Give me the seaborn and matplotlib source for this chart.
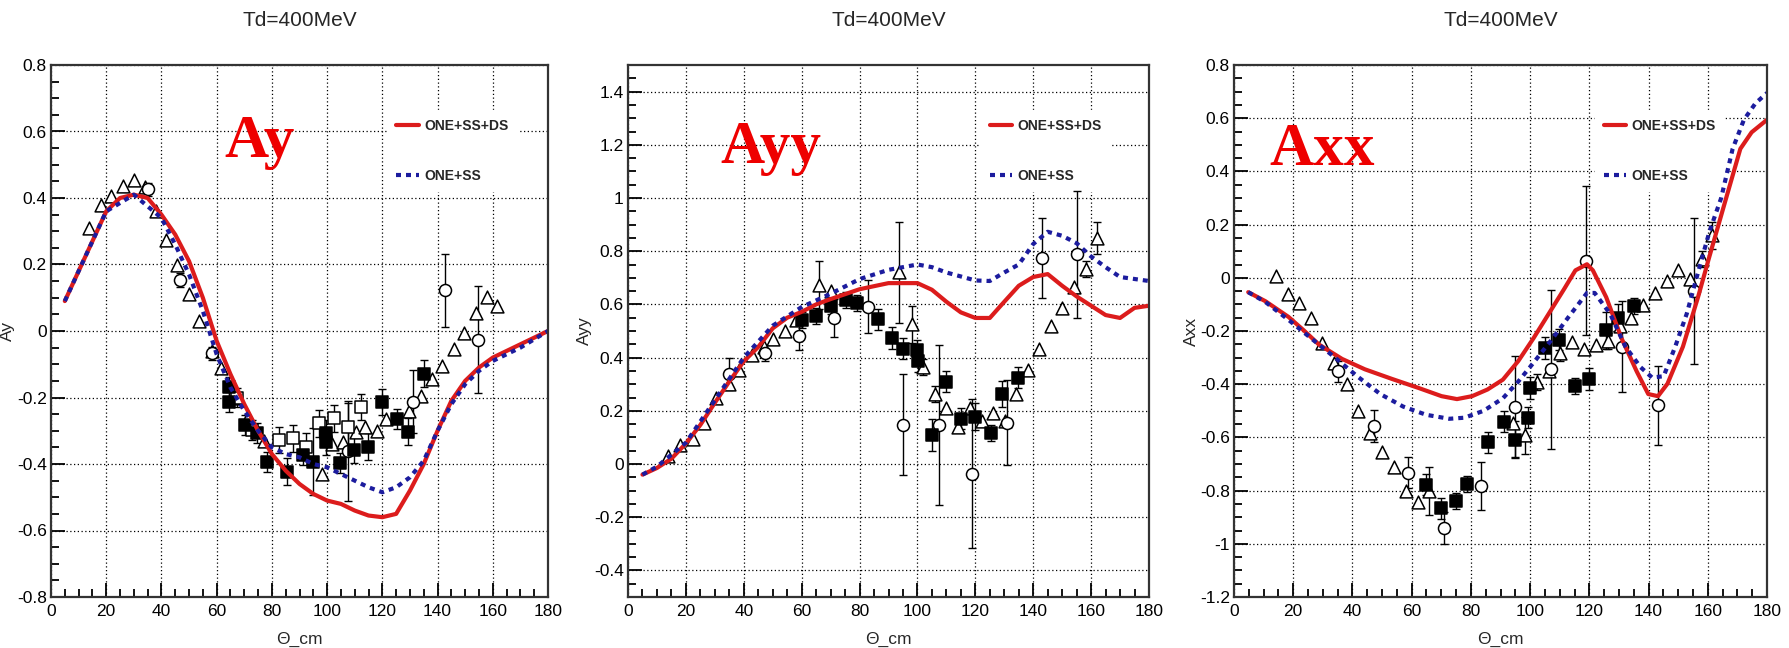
import numpy as np
import pandas as pd
import matplotlib
matplotlib.use("Agg")
import matplotlib.pyplot as plt
import seaborn as sns
from matplotlib.ticker import MultipleLocator, AutoMinorLocator, FuncFormatter
from matplotlib import font_manager

# ---------------- data ----------------
# Panel 1 : Ay
ay_red_x = [5, 10, 20, 25, 30, 35, 40, 45, 50, 55, 60, 65, 70, 75, 80, 85, 90, 95, 100, 105, 110, 115, 120, 125,
            130, 135, 140, 145, 150, 155, 160, 165, 170, 175, 180]
ay_red_y = [0.09, 0.18, 0.36, 0.40, 0.41, 0.40, 0.35, 0.29, 0.21, 0.10, -0.03, -0.13, -0.22, -0.30, -0.37, -0.42,
            -0.46, -0.49, -0.51, -0.52, -0.54, -0.555, -0.56, -0.55, -0.48, -0.40, -0.30, -0.21, -0.15, -0.11,
            -0.08, -0.06, -0.04, -0.02, 0.0]
ay_blue_x = [5, 10, 20, 30, 40, 45, 50, 55, 60, 65, 70, 75, 80, 85, 90, 95, 100, 105, 110, 115, 120, 125, 130, 135,
             140, 145, 150, 155, 160, 170, 180]
ay_blue_y = [0.09, 0.18, 0.36, 0.41, 0.34, 0.26, 0.17, 0.06, -0.07, -0.17, -0.24, -0.30, -0.35, -0.37, -0.38,
             -0.40, -0.41, -0.43, -0.45, -0.47, -0.485, -0.47, -0.44, -0.39, -0.30, -0.22, -0.16, -0.12, -0.09,
             -0.05, 0.0]
ay_tri_x = [13.9, 18.0, 21.8, 25.9, 30.1, 34.2, 38.0, 41.6, 45.6, 49.9, 53.6, 58.2, 61.7, 66.0, 71.5, 77.0, 98.0,
            101.8, 105.6, 110.4, 113.9, 118.0, 121.5, 129.8, 134.0, 137.9, 141.6, 146.0, 149.6, 153.8, 158.0, 161.7]
ay_tri_y = [0.31, 0.38, 0.405, 0.436, 0.455, 0.434, 0.36, 0.275, 0.20, 0.11, 0.03, -0.06, -0.11, -0.20, -0.26,
            -0.33, -0.43, -0.34, -0.334, -0.303, -0.29, -0.30, -0.266, -0.24, -0.195, -0.145, -0.105, -0.055,
            -0.005, 0.055, 0.103, 0.076]
ay_tri_e = [0] * 32
ay_cir_x = [35.3, 46.7, 58.2, 107.5, 131.0, 142.7, 154.8]
ay_cir_y = [0.426, 0.153, -0.067, -0.36, -0.213, 0.123, -0.026]
ay_cir_e = [0.02, 0.02, 0.02, 0.15, 0.095, 0.11, 0.16]
ay_fsq_x = [64.6, 64.6, 70.3, 74.7, 78.3, 85.6, 91.2, 94.9, 99.6, 99.6, 104.7, 109.7, 114.9, 119.8, 125.4, 129.2,
            135.1]
ay_fsq_y = [-0.167, -0.213, -0.283, -0.307, -0.393, -0.423, -0.373, -0.393, -0.307, -0.333, -0.398, -0.358,
            -0.348, -0.213, -0.265, -0.303, -0.128]
ay_fsq_e = [0.03, 0.03, 0.03, 0.03, 0.03, 0.04, 0.03, 0.10, 0.04, 0.04, 0.03, 0.04, 0.04, 0.04, 0.03, 0.04, 0.04]
ay_osq_x = [67.5, 72.7, 82.7, 87.5, 92.2, 97.2, 102.5, 107.5, 112.2]
ay_osq_y = [-0.20, -0.298, -0.328, -0.323, -0.348, -0.278, -0.263, -0.288, -0.228]
ay_osq_e = [0.03, 0.03, 0.04, 0.04, 0.04, 0.04, 0.04, 0.07, 0.04]

# Panel 2 : Ayy
ayy_red_x = [5, 10, 15, 20, 25, 30, 35, 40, 45, 50, 55, 60, 65, 70, 80, 90, 100, 105, 110, 115, 120, 125, 130, 135,
             140, 145, 150, 155, 160, 165, 170, 175, 180]
ayy_red_y = [-0.04, -0.015, 0.02, 0.077, 0.147, 0.23, 0.31, 0.386, 0.44, 0.51, 0.55, 0.572, 0.60, 0.62, 0.657,
             0.68, 0.68, 0.655, 0.61, 0.57, 0.549, 0.549, 0.61, 0.67, 0.703, 0.714, 0.67, 0.63, 0.595, 0.56,
             0.549, 0.587, 0.595]
ayy_blue_x = [5, 10, 20, 30, 40, 50, 60, 70, 80, 90, 100, 105, 110, 115, 120, 125, 130, 135, 140, 145, 150, 155,
              160, 165, 170, 180]
ayy_blue_y = [-0.04, -0.01, 0.08, 0.24, 0.40, 0.52, 0.59, 0.64, 0.695, 0.73, 0.75, 0.74, 0.72, 0.705, 0.69, 0.688,
              0.72, 0.75, 0.827, 0.873, 0.858, 0.83, 0.78, 0.74, 0.703, 0.688]
ayy_tri_x = [13.9, 18.1, 22.5, 26.4, 30.4, 34.8, 38.3, 42.9, 47.0, 50.2, 54.2, 58.1, 66.1, 70.0, 93.8, 98.2, 101.8,
             106.0, 110.0, 113.9, 118.3, 122.2, 126.2, 130.2, 134.1, 138.1, 142.1, 146.0, 150.0, 154.0, 158.3,
             161.9]
ayy_tri_y = [0.031, 0.07, 0.093, 0.155, 0.247, 0.30, 0.355, 0.41, 0.44, 0.47, 0.50, 0.54, 0.672, 0.65, 0.72, 0.525,
             0.363, 0.263, 0.209, 0.139, 0.209, 0.162, 0.193, 0.162, 0.263, 0.355, 0.433, 0.518, 0.587, 0.665,
             0.734, 0.85]
ayy_tri_e = [0, 0, 0, 0, 0, 0, 0, 0, 0, 0, 0, 0, 0.09, 0, 0.19, 0.07, 0.03, 0.03, 0, 0, 0, 0, 0, 0, 0, 0, 0, 0, 0,
             0, 0.03, 0.06]
ayy_cir_x = [35.0, 47.3, 59.1, 71.0, 83.0, 95.1, 107.3, 118.9, 130.8, 143.0, 155.0]
ayy_cir_y = [0.34, 0.417, 0.48, 0.549, 0.592, 0.147, 0.147, -0.036, 0.155, 0.773, 0.788]
ayy_cir_e = [0.06, 0.03, 0.05, 0.07, 0.10, 0.19, 0.30, 0.28, 0.16, 0.15, 0.24]
ayy_fsq_x = [60.1, 64.8, 70.0, 75.3, 79.0, 86.2, 91.2, 94.9, 99.8, 100.2, 105.1, 109.7, 115.0, 120.0, 125.5,
             129.2, 134.8]
ayy_fsq_y = [0.54, 0.556, 0.595, 0.618, 0.606, 0.544, 0.474, 0.433, 0.428, 0.386, 0.108, 0.309, 0.17, 0.178,
             0.116, 0.263, 0.325]
ayy_fsq_e = [0.03, 0.03, 0.03, 0.03, 0.03, 0.04, 0.04, 0.04, 0.04, 0.04, 0.06, 0.04, 0.04, 0.05, 0.03, 0.05, 0.04]

# Panel 3 : Axx
axx_red_x = [4.8, 10.6, 18.4, 23.5, 28.7, 36.5, 44.2, 53.3, 62.3, 70.1, 75.3, 80.4, 85.6, 90.8, 96.0, 101.1, 106.3,
             111.5, 115.3, 119.2, 121.2, 125.7, 130.9, 136.0, 139.9, 143.2, 146.4, 151.6, 156.7, 160.6, 165.8,
             171.0, 174.8, 180.0]
axx_red_y = [-0.054, -0.088, -0.147, -0.197, -0.251, -0.305, -0.344, -0.38, -0.414, -0.445, -0.456, -0.445, -0.42,
             -0.383, -0.313, -0.228, -0.135, -0.042, 0.028, 0.051, 0.028, -0.073, -0.228, -0.352, -0.437, -0.445,
             -0.398, -0.259, -0.073, 0.082, 0.284, 0.485, 0.547, 0.594]
axx_blue_x = [4.8, 10.6, 18.4, 26.1, 33.9, 41.6, 49.4, 57.1, 64.9, 72.7, 77.8, 84.3, 90.8, 96.0, 101.1, 107.6,
              112.8, 119.2, 121.8, 127.0, 132.2, 137.3, 141.2, 145.1, 149.0, 152.9, 156.7, 160.6, 164.5, 168.4,
              172.2, 176.1, 180.0]
axx_blue_y = [-0.054, -0.091, -0.158, -0.228, -0.298, -0.37, -0.437, -0.484, -0.515, -0.53, -0.526, -0.50, -0.453,
              -0.39, -0.32, -0.228, -0.15, -0.057, -0.057, -0.135, -0.259, -0.336, -0.375, -0.37, -0.259, -0.135,
              0.02, 0.175, 0.299, 0.485, 0.594, 0.656, 0.695]
axx_tri_x = [14.2, 18.1, 22.0, 25.9, 29.7, 33.9, 38.0, 42.0, 45.8, 50.0, 53.9, 58.2, 62.1, 66.0, 94.3, 98.3, 102.2,
             106.3, 110.2, 114.1, 118.2, 122.1, 126.3, 130.2, 134.1, 138.2, 142.1, 146.1, 150.0, 153.9, 158.0,
             161.3]
axx_tri_y = [0.008, -0.06, -0.096, -0.153, -0.246, -0.32, -0.40, -0.50, -0.584, -0.654, -0.712, -0.80, -0.843,
             -0.80, -0.545, -0.592, -0.39, -0.352, -0.282, -0.243, -0.267, -0.251, -0.236, -0.181, -0.15, -0.104,
             -0.057, -0.011, 0.028, -0.003, 0.07, 0.16]
axx_tri_e = [0, 0, 0, 0, 0, 0, 0, 0, 0, 0, 0, 0, 0, 0.09, 0, 0.07, 0.03, 0, 0.03, 0, 0, 0, 0.03, 0, 0, 0, 0, 0, 0,
             0, 0.03, 0.05]
axx_cir_x = [35.2, 47.2, 58.8, 71.0, 83.3, 95.0, 107.0, 119.0, 130.9, 143.2, 155.2]
axx_cir_y = [-0.352, -0.557, -0.732, -0.941, -0.783, -0.484, -0.344, 0.064, -0.259, -0.48, -0.05]
axx_cir_e = [0.04, 0.06, 0.06, 0.06, 0.09, 0.19, 0.30, 0.28, 0.17, 0.15, 0.275]
axx_fsq_x = [64.9, 69.8, 74.9, 78.8, 85.9, 91.2, 94.8, 99.4, 100.1, 105.0, 109.8, 115.1, 119.9, 125.7, 129.8,
             135.1]
axx_fsq_y = [-0.778, -0.867, -0.84, -0.774, -0.619, -0.541, -0.608, -0.526, -0.414, -0.264, -0.233, -0.406, -0.38,
             -0.197, -0.15, -0.107]
axx_fsq_e = [0.04, 0.04, 0.03, 0.03, 0.04, 0.04, 0.07, 0.04, 0.04, 0.04, 0.04, 0.03, 0.04, 0.07, 0.05, 0.03]

titles = ["Td=400MeV", "Td=400MeV", "Td=400MeV"]
ylabels = ["Ay", "Ayy", "Axx"]
big_labels = ["Ay", "Ayy", "Axx"]
legend_labels = ["ONE+SS+DS", "ONE+SS"]

# ---------------- style ----------------
sns.set_theme(style="ticks")
names = {f.name for f in font_manager.fontManager.ttflist}
NARROW = "Liberation Sans Narrow" if "Liberation Sans Narrow" in names else "Liberation Sans"
plt.rcParams['font.family'] = [NARROW, 'DejaVu Sans']
plt.rcParams['axes.facecolor'] = 'white'
plt.rcParams['figure.facecolor'] = 'white'

RED = '#dc1c1c'
BLUE = '#1c1c9e'

fig = plt.figure(figsize=(17.89, 6.48), dpi=100)
W, H = 1789.0, 648.0
rects = [(51, 548), (628, 1149), (1234, 1767)]
y_top, y_bot = 65, 597
axes = [fig.add_axes([l / W, 1 - y_bot / H, (r - l) / W, (y_bot - y_top) / H]) for l, r in rects]

panels = [
    dict(red=(ay_red_x, ay_red_y), blue=(ay_blue_x, ay_blue_y),
         tri=(ay_tri_x, ay_tri_y, ay_tri_e), cir=(ay_cir_x, ay_cir_y, ay_cir_e),
         fsq=(ay_fsq_x, ay_fsq_y, ay_fsq_e), osq=(ay_osq_x, ay_osq_y, ay_osq_e),
         ylim=(-0.8, 0.8), big_pos=(0.348, 0.827), ylab_x=-0.072),
    dict(red=(ayy_red_x, ayy_red_y), blue=(ayy_blue_x, ayy_blue_y),
         tri=(ayy_tri_x, ayy_tri_y, ayy_tri_e), cir=(ayy_cir_x, ayy_cir_y, ayy_cir_e),
         fsq=(ayy_fsq_x, ayy_fsq_y, ayy_fsq_e), osq=None,
         ylim=(-0.5, 1.5), big_pos=(0.177, 0.816), ylab_x=-0.069),
    dict(red=(axx_red_x, axx_red_y), blue=(axx_blue_x, axx_blue_y),
         tri=(axx_tri_x, axx_tri_y, axx_tri_e), cir=(axx_cir_x, axx_cir_y, axx_cir_e),
         fsq=(axx_fsq_x, axx_fsq_y, axx_fsq_e), osq=None,
         ylim=(-1.2, 0.8), big_pos=(0.066, 0.812), ylab_x=-0.066),
]

fmt = FuncFormatter(lambda v, p: ('%g' % round(v, 3)) if abs(v) > 1e-9 else '0')

for i, (ax, pnl) in enumerate(zip(axes, panels)):
    def pts(data, marker, face, ms):
        if data is None:
            return
        x, y, e = data
        df = pd.DataFrame({'theta': x, 'val': y, 'err': e})
        de = df[df['err'] > 0]
        if len(de):
            ax.errorbar(de['theta'], de['val'], yerr=de['err'], fmt='none', ecolor='black',
                        elinewidth=1.0, capsize=3, capthick=1.0, zorder=3)
        sns.scatterplot(data=df, x='theta', y='val', ax=ax, marker=marker, s=ms,
                        color=face, edgecolor='black', linewidth=1.1, zorder=4, legend=False)

    pts(pnl['tri'], '^', 'white', 85)
    pts(pnl['cir'], 'o', 'white', 75)
    pts(pnl['osq'], 's', 'white', 65)
    pts(pnl['fsq'], 's', 'black', 65)

    rx, ry = pnl['red']
    bx, by = pnl['blue']
    sns.lineplot(x=rx, y=ry, ax=ax, color=RED, linewidth=3.0, sort=False, estimator=None,
                 label=legend_labels[0], zorder=5)
    sns.lineplot(x=bx, y=by, ax=ax, color=BLUE, linewidth=3.0, sort=False, estimator=None,
                 linestyle=(0, (1.2, 1.2)), label=legend_labels[1], zorder=5)

    ax.set_xlim(0, 180)
    ax.set_ylim(*pnl['ylim'])
    ax.xaxis.set_major_locator(MultipleLocator(20))
    ax.xaxis.set_minor_locator(AutoMinorLocator(4))
    ax.yaxis.set_major_locator(MultipleLocator(0.2))
    ax.yaxis.set_minor_locator(AutoMinorLocator(4))
    ax.yaxis.set_major_formatter(fmt)
    ax.xaxis.set_major_formatter(fmt)
    ax.tick_params(which='both', direction='in', top=False, right=False, colors='black',
                   labelsize=12.5, width=1.3)
    ax.tick_params(which='major', length=10, pad=5)
    ax.tick_params(axis='y', which='major', pad=3)
    ax.tick_params(which='minor', length=5.5)
    ax.grid(True, which='major', color='black', linestyle=(0, (1, 2)), linewidth=0.9)
    for s in ax.spines.values():
        s.set_visible(True)
        s.set_color('#333333')
        s.set_linewidth(1.6)
        s.set_zorder(8)

    ax.set_xlabel('\u0398_cm', fontsize=12.5)
    ax.xaxis.set_label_coords(0.5, -0.065)
    ax.set_ylabel(ylabels[i], fontsize=12.5)
    ax.yaxis.set_label_coords(pnl['ylab_x'], 0.5)

    ax.text(0.5, 1.083, titles[i], transform=ax.transAxes, ha='center', va='center', fontsize=15)
    ax.text(pnl['big_pos'][0], pnl['big_pos'][1], big_labels[i], transform=ax.transAxes,
            ha='left', va='baseline', fontsize=44, fontweight='bold', color='#ee0000',
            family=['Liberation Serif', 'DejaVu Serif'], zorder=6)

    leg = ax.legend(loc='upper left', bbox_to_anchor=(0.678, 0.915), frameon=True, facecolor='white',
                    edgecolor='white', framealpha=1.0, fancybox=False, labelspacing=2.6,
                    handlelength=1.6, handletextpad=0.4, borderpad=0.6, borderaxespad=0.0,
                    prop={'weight': 'bold', 'size': 10})
    leg.set_zorder(2)

fig.savefig('out.png', dpi=100, facecolor='white')
